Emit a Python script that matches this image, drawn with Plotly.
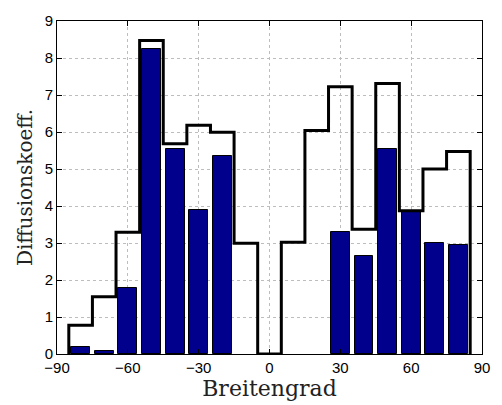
import numpy as np
import plotly.graph_objects as go

# bin centers (latitude, degrees)
lat_centers = [-80, -70, -60, -50, -40, -30, -20, -10, 0, 10, 20, 30, 40, 50, 60, 70, 80]
# outline (stairs) series
stair_values = [0.78, 1.55, 3.29, 8.47, 5.68, 6.18, 5.99, 2.99, 0.0, 3.02, 6.04, 7.22, 3.37, 7.31, 3.87, 5.0, 5.47]
# filled bar series (None = no bar)
bar_values = [0.19, 0.07, 1.79, 8.24, 5.53, 3.89, 5.35, None, None, None, None, 3.29, 2.65, 5.53, 3.83, 2.99, 2.95]

x_ticks = [-90, -60, -30, 0, 30, 60, 90]
y_ticks = list(range(0, 10))

bin_width = 10
centers = np.array(lat_centers, dtype=float)
edges = np.concatenate([centers - bin_width / 2, [centers[-1] + bin_width / 2]])
stair_x = np.concatenate([[edges[0]], edges])
stair_y = np.concatenate([[0.0], stair_values, [0.0]])

fig = go.Figure()
fig.add_trace(go.Bar(
    x=lat_centers, y=bar_values, width=8,
    marker=dict(color="#00008c", line=dict(color="black", width=1)),
    showlegend=False,
))
fig.add_trace(go.Scatter(
    x=stair_x, y=stair_y, mode="lines",
    line=dict(color="black", width=3, shape="hv"),
    showlegend=False, cliponaxis=False,
))

axis_common = dict(
    showline=True, linecolor="black", linewidth=1, mirror="ticks",
    ticks="inside", ticklen=5, tickcolor="black",
    showgrid=True, gridcolor="#bdbdbd", griddash="dot", gridwidth=1,
    zeroline=False,
    tickfont=dict(family="Liberation Sans, Arial", size=15, color="black"),
)
fig.update_xaxes(range=[-90, 90], tickvals=x_ticks, **axis_common,
                 title=dict(text="Breitengrad", standoff=0,
                            font=dict(family="DejaVu Serif", size=22, color="#222")))
fig.update_yaxes(range=[0, 9], tickvals=y_ticks, **axis_common,
                 title=dict(text="Diffusionskoeff.", standoff=6,
                            font=dict(family="DejaVu Serif", size=20, color="#222")))
fig.update_layout(
    width=502, height=405,
    margin=dict(l=57, r=13, t=13, b=51),
    paper_bgcolor="white", plot_bgcolor="white",
    bargap=0,
)
fig.write_html("out.html")
